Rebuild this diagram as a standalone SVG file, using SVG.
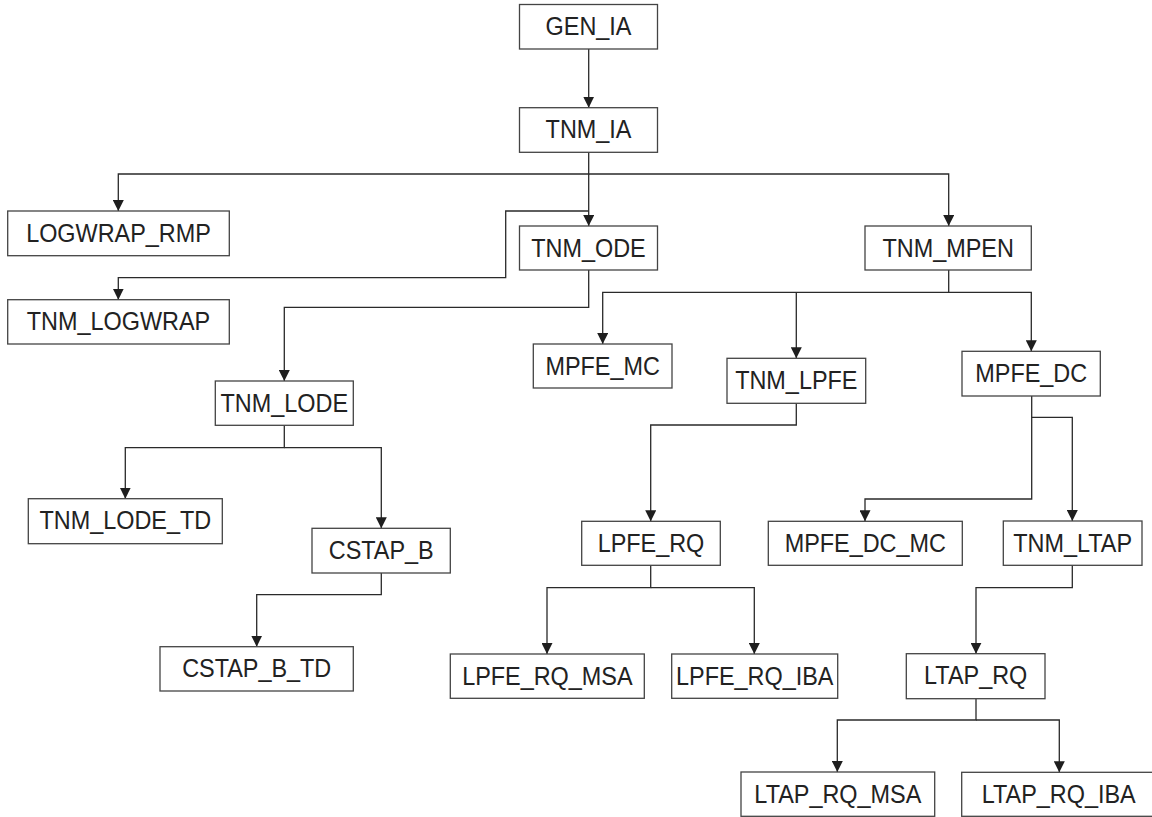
<svg xmlns="http://www.w3.org/2000/svg" width="1152" height="817" viewBox="0 0 1152 817">
  <style>
    .node rect { fill: #ffffff; stroke: #444444; stroke-width: 1.3; }
    .node text { font-family: "Liberation Sans", Arial, sans-serif; font-size: 25.6px; fill: #222222; text-anchor: middle;
                 transform-box: fill-box; transform-origin: center; transform: scaleX(0.915); }
    .edges path { fill: none; stroke: #2a2a2a; stroke-width: 1.3; marker-end: url(#arrow); }
  </style>
  <defs>
    <marker id="arrow" markerUnits="userSpaceOnUse" markerWidth="11" markerHeight="11" refX="11" refY="5.5" orient="auto">
      <path d="M0,0 L11,5.5 L0,11 z" fill="#1e1e1e"/>
    </marker>
  </defs>
  <rect width="1152" height="817" fill="#ffffff"/>

  <!-- connectors -->
  <g id="connectors" class="edges">
    <path d="M588.7,49 V107.7"/>
    <path d="M588.7,152.3 V174 H118.3 V211"/>
    <path d="M588.7,174 H948.7 V226"/>
    <path d="M588.7,174 V226"/>
    <path d="M588.7,211 H505.7 V277.7 H118.3 V299.7"/>
    <path d="M588.7,270 V307.3 H284.3 V381"/>
    <path d="M948.7,270 V292.3 H602.7 V344"/>
    <path d="M796.3,292.3 V358.3"/>
    <path d="M948.7,292.3 H1031.3 V351.3"/>
    <path d="M284.3,425.3 V447.7 H125.3 V498.7"/>
    <path d="M284.3,447.7 H381.3 V528.3"/>
    <path d="M381.3,573 V594.7 H256.7 V646.7"/>
    <path d="M796.3,403.3 V425 H650.7 V521.3"/>
    <path d="M650.7,565.3 V587.7 H547 V654"/>
    <path d="M650.7,587.7 H754.3 V654"/>
    <path d="M1031.7,396 V499 H865 V521.3"/>
    <path d="M1031.7,417.3 H1072.3 V521"/>
    <path d="M1072.3,565.3 V587.7 H976 V653.7"/>
    <path d="M976,698.7 V720 H837.3 V772"/>
    <path d="M976,720 H1059.3 V772.3"/>
  </g>

  <!-- nodes -->
  <g id="GEN_IA" class="node"><rect x="519.5" y="4.5" width="138" height="44.5"/><text x="588.5" y="34.7">GEN_IA</text></g>
  <g id="TNM_IA" class="node"><rect x="519.5" y="107.7" width="138" height="44.6"/><text x="588.5" y="138.2">TNM_IA</text></g>
  <g id="LOGWRAP_RMP" class="node"><rect x="7.7" y="211" width="221.6" height="44.7"/><text x="118.5" y="241.7">LOGWRAP_RMP</text></g>
  <g id="TNM_ODE" class="node"><rect x="519.5" y="226" width="138" height="44"/><text x="588.5" y="256.7">TNM_ODE</text></g>
  <g id="TNM_MPEN" class="node"><rect x="865" y="226" width="166.3" height="44"/><text x="948.2" y="256.7">TNM_MPEN</text></g>
  <g id="TNM_LOGWRAP" class="node"><rect x="7.7" y="299.7" width="221.6" height="44.3"/><text x="118.5" y="330.4">TNM_LOGWRAP</text></g>
  <g id="MPFE_MC" class="node"><rect x="533.3" y="344" width="138.7" height="44"/><text x="602.7" y="374.7">MPFE_MC</text></g>
  <g id="TNM_LPFE" class="node"><rect x="727" y="358.3" width="138.7" height="45"/><text x="796.3" y="389.2">TNM_LPFE</text></g>
  <g id="MPFE_DC" class="node"><rect x="962" y="351.3" width="138.3" height="44.7"/><text x="1031.2" y="382">MPFE_DC</text></g>
  <g id="TNM_LODE" class="node"><rect x="215.3" y="381" width="138" height="44.3"/><text x="284.3" y="411.7">TNM_LODE</text></g>
  <g id="TNM_LODE_TD" class="node"><rect x="28.3" y="498.7" width="194" height="45"/><text x="125.3" y="529.4">TNM_LODE_TD</text></g>
  <g id="CSTAP_B" class="node"><rect x="312" y="528.3" width="138.3" height="44.7"/><text x="381.2" y="559">CSTAP_B</text></g>
  <g id="LPFE_RQ" class="node"><rect x="581.7" y="521.3" width="138.6" height="44"/><text x="651" y="552">LPFE_RQ</text></g>
  <g id="MPFE_DC_MC" class="node"><rect x="768.3" y="521.3" width="194" height="44"/><text x="865.3" y="552">MPFE_DC_MC</text></g>
  <g id="TNM_LTAP" class="node"><rect x="1003.3" y="521" width="138.7" height="44.3"/><text x="1072.7" y="551.7">TNM_LTAP</text></g>
  <g id="CSTAP_B_TD" class="node"><rect x="160" y="646.7" width="193.3" height="44.3"/><text x="256.7" y="677.4">CSTAP_B_TD</text></g>
  <g id="LPFE_RQ_MSA" class="node"><rect x="450.3" y="654" width="194" height="44.3"/><text x="547.3" y="684.7">LPFE_RQ_MSA</text></g>
  <g id="LPFE_RQ_IBA" class="node"><rect x="671.7" y="654" width="166" height="44.3"/><text x="754.7" y="684.7">LPFE_RQ_IBA</text></g>
  <g id="LTAP_RQ" class="node"><rect x="906.3" y="653.7" width="138.7" height="45"/><text x="975.7" y="684.4">LTAP_RQ</text></g>
  <g id="LTAP_RQ_MSA" class="node"><rect x="741" y="772" width="193.7" height="44.3"/><text x="837.8" y="802.7">LTAP_RQ_MSA</text></g>
  <g id="LTAP_RQ_IBA" class="node"><rect x="961.7" y="772.3" width="194" height="44"/><text x="1058.7" y="803">LTAP_RQ_IBA</text></g>
</svg>
